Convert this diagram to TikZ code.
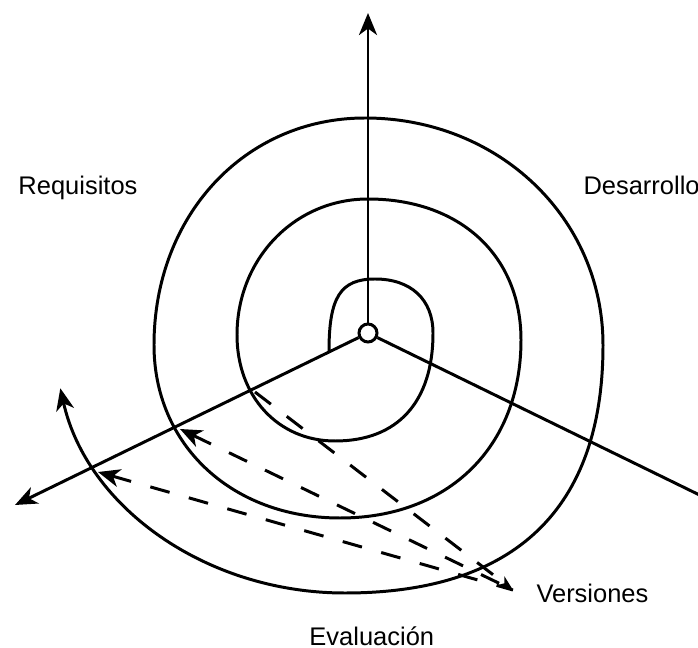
\documentclass[tikz,border=0pt]{standalone}
\usepackage{fontspec}
\setmainfont{Liberation Sans}
\usetikzlibrary{arrows.meta}

\begin{document}
\begin{tikzpicture}[x=0.2mm, y=-0.2mm, line width=1.7pt,
		>={Stealth[length=4.4mm, width=3.6mm, inset=1.3mm]},
		eje/.style={->},
		versiones/.style={<-, dash pattern=on 4mm off 4mm},
		rotulo/.style={anchor=base west, inner sep=0pt, font=\fontsize{14.5}{17}\selectfont}]
	\useasboundingbox (0,0) rectangle (698,648);
	\node[circle, draw, inner sep=0pt, minimum size=3.6mm] (hub) at (368,333) {};
	\coordinate (n) at (368,13);
	\coordinate (sw) at (15,505);
	\coordinate (se) at (720,505);
	\draw[eje] (hub) -- (n);
	\draw[eje] (hub) -- (sw);
	\draw (hub) -- (se);
	\draw[->] (329,351)
		.. controls (329,297) and (340.5,279) .. (375,279)
		.. controls (411,279) and (433,299.5) .. (433,333)
		.. controls (433,402) and (397.7,441) .. (335,441)
		.. controls (278.2,441) and (237,396.5) .. (237,335)
		.. controls (237,258.8) and (294.6,199) .. (368,199)
		.. controls (459.8,199) and (521,255.4) .. (521,340)
		.. controls (521,446.8) and (448.6,518) .. (340,518)
		.. controls (232.1,518) and (154,445.3) .. (154,345)
		.. controls (154,215.6) and (244.7,118) .. (365,118)
		.. controls (498.3,118) and (603,217.9) .. (603,345)
		.. controls (603,508.7) and (515.3,593) .. (345,593)
		arc[start angle=90, end angle=169, x radius=290, y radius=253];
	\coordinate (ver) at (513,590);
	\coordinate (v1) at (255,392);
	\coordinate (v2) at (180,429);
	\coordinate (v3) at (98,472);
	\draw[versiones, -{Stealth[length=3mm, width=2.2mm, inset=0.8mm]}] (v1) -- (ver);
	\draw[versiones] (v2) -- (ver);
	\draw[versiones] (v3) -- (ver);
	\node[rotulo] (req) at (17,195) {Requisitos};
	\node[rotulo] (des) at (582,195) {Desarrollo};
	\node[rotulo] (vers) at (535,602) {Versiones};
	\node[rotulo] (eva) at (308,645) {Evaluación};
\end{tikzpicture}
\end{document}
